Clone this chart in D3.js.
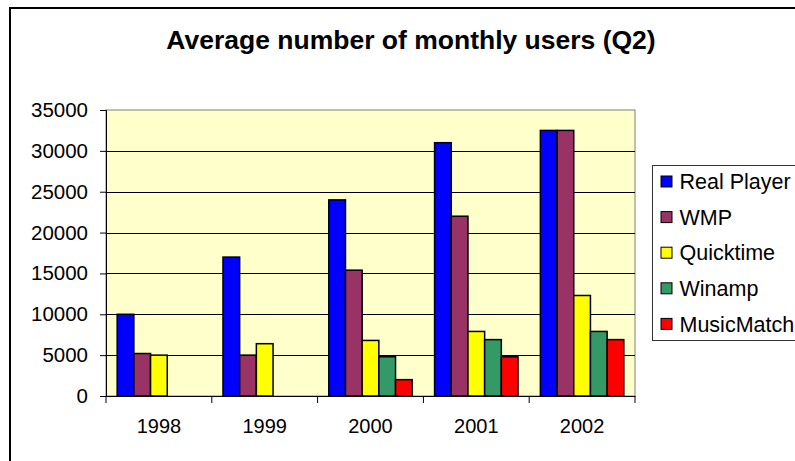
<!DOCTYPE html>
<html lang="en">
<head>
  <meta charset="UTF-8">
  <title>Average number of monthly users (Q2)</title>
  <script src="https://d3js.org/d3.v7.min.js"></script>
  <style>
    body { margin: 0; background: #fff; }
    svg { display: block; font-family: "Liberation Sans", Arial, sans-serif; }
    .tick text { fill: #000; }
    .y-axis .tick text { font-size: 20.5px; }
    .x-axis .tick text { font-size: 20px; }
  </style>
</head>
<body>
<svg id="chart" width="795" height="461"></svg>
<script>
    // data
    const years = ["1998", "1999", "2000", "2001", "2002"];
    const players = ["Real Player", "WMP", "Quicktime", "Winamp", "MusicMatch"];
    const realPlayer = [10000, 17000, 24000, 31000, 32500];
    const wmp        = [5200, 5000, 15400, 22000, 32500];
    const quicktime  = [5000, 6400, 6800, 7900, 12300];
    const winamp     = [0, 0, 4800, 6900, 7900];
    const musicMatch = [0, 0, 2000, 4800, 6900];
    const yTicks = [0, 5000, 10000, 15000, 20000, 25000, 30000, 35000];

    const colors = ["#0000FF", "#993366", "#FFFF00", "#339966", "#FF0000"];
    const seriesValues = [realPlayer, wmp, quicktime, winamp, musicMatch];

    const svg = d3.select("#chart");
    const plot = { left: 106, right: 635, top: 110, bottom: 396 };

    // outer chart frame (runs off the right / bottom edge like the original)
    svg.append("rect")
      .attr("x", 10).attr("y", 8)
      .attr("width", 800).attr("height", 470)
      .attr("fill", "#fff")
      .attr("stroke", "#000")
      .attr("stroke-width", 2);

    // title
    svg.append("text")
      .attr("x", 411).attr("y", 49)
      .attr("text-anchor", "middle")
      .attr("font-size", "26.5px")
      .attr("font-weight", "bold")
      .text("Average number of monthly users (Q2)");

    const x0 = d3.scaleBand().domain(years).range([plot.left, plot.right]).padding(0);
    const x1 = d3.scaleBand().domain(players).range([0, x0.bandwidth()])
      .paddingInner(0).paddingOuter(0.67);
    const y = d3.scaleLinear().domain([0, 35000]).range([plot.bottom, plot.top]);

    // plot area
    svg.append("rect")
      .attr("x", plot.left).attr("y", plot.top)
      .attr("width", plot.right - plot.left)
      .attr("height", plot.bottom - plot.top)
      .attr("fill", "#FFFFCC")
      .attr("stroke", "#808080")
      .attr("stroke-width", 1);

    // gridlines
    svg.append("g")
      .selectAll("line")
      .data(yTicks.filter(d => d > 0 && d < 35000))
      .join("line")
      .attr("x1", plot.left).attr("x2", plot.right)
      .attr("y1", d => Math.round(y(d)) + 0.5).attr("y2", d => Math.round(y(d)) + 0.5)
      .attr("stroke", "#000")
      .attr("stroke-width", 1);

    // bars
    const data = [];
    years.forEach((yr, i) => {
      players.forEach((p, j) => {
        data.push({ year: yr, player: p, value: seriesValues[j][i], color: colors[j] });
      });
    });

    svg.append("g")
      .selectAll("rect")
      .data(data.filter(d => d.value > 0))
      .join("rect")
      .attr("x", d => x0(d.year) + x1(d.player))
      .attr("y", d => y(d.value))
      .attr("width", x1.bandwidth())
      .attr("height", d => plot.bottom - y(d.value))
      .attr("fill", d => d.color)
      .attr("stroke", "#000")
      .attr("stroke-width", 1.5);

    // y axis
    svg.append("g")
      .attr("class", "y-axis")
      .attr("transform", `translate(${plot.left},0)`)
      .call(d3.axisLeft(y).tickValues(yTicks).tickSize(6).tickPadding(12)
        .tickFormat(d3.format("d")))
      .call(g => g.select(".domain").attr("stroke", "#000"))
      .call(g => g.selectAll(".tick line").attr("stroke", "#000"));

    // x axis
    const xAxis = svg.append("g")
      .attr("class", "x-axis")
      .attr("transform", `translate(0,${plot.bottom})`)
      .call(d3.axisBottom(x0).tickSize(0).tickPadding(23))
      .call(g => g.select(".domain").attr("stroke", "#000"));

    xAxis.selectAll(".sep")
      .data(years.map(d => x0(d)).concat([plot.right]))
      .join("line")
      .attr("class", "sep")
      .attr("x1", d => d).attr("x2", d => d)
      .attr("y1", 0).attr("y2", 7)
      .attr("stroke", "#000");

    // legend
    const legend = svg.append("g").attr("transform", "translate(652.5,165.5)");
    legend.append("rect")
      .attr("width", 160).attr("height", 175)
      .attr("fill", "#fff")
      .attr("stroke", "#333")
      .attr("stroke-width", 1);

    const item = legend.selectAll(".item")
      .data(players)
      .join("g")
      .attr("class", "item")
      .attr("transform", (d, i) => `translate(0,${16 + i * 35.6})`);

    item.append("rect")
      .attr("x", 8.5).attr("y", -5.5)
      .attr("width", 11).attr("height", 11)
      .attr("fill", (d, i) => colors[i])
      .attr("stroke", "#000")
      .attr("stroke-width", 1);

    item.append("text")
      .attr("x", 27).attr("y", 0)
      .attr("dy", "0.36em")
      .attr("font-size", "21.5px")
      .text(d => d);
</script>
</body>
</html>
